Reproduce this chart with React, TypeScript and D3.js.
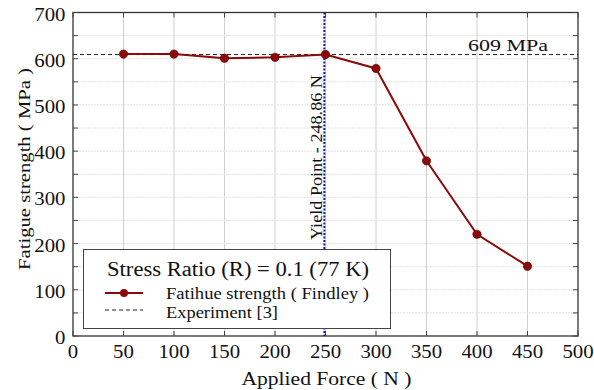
import React from "react";
import * as d3 from "d3";

const forces = [50, 100, 150, 200, 250, 300, 350, 400, 450];
const strength = [610, 610, 601, 603, 609, 579, 379, 220, 151];
const experimentValue = 609;
const yieldPoint = 248.86;
const xTicks = [0, 50, 100, 150, 200, 250, 300, 350, 400, 450, 500];
const yTicks = [0, 100, 200, 300, 400, 500, 600, 700];
const yMinor = [50, 150, 250, 350, 450, 550, 650];

const W = 594, H = 390;
const M = { left: 73, right: 578, top: 12.5, bottom: 336 };
const FONT = "Liberation Serif, Times New Roman, serif";

function T(props: any) {
  const { len, children, ...rest } = props;
  return (
    <text fill="#111" textLength={len} lengthAdjust="spacingAndGlyphs" {...rest}>
      {children}
    </text>
  );
}

export default function App() {
  const x = d3.scaleLinear().domain([0, 500]).range([M.left, M.right]);
  const y = d3.scaleLinear().domain([0, 700]).range([M.bottom, M.top]);
  const line = d3.line<number>().x((_, i) => x(forces[i])).y((d) => y(d));
  const red = "#8b0a0a";
  const numLen = (t: number) => String(t).length * 10.4;
  return (
    <svg width={W} height={H} style={{ position: "absolute", left: 0, top: 0, fontFamily: FONT }}>
      <rect width={W} height={H} fill="#fff" />
      {/* grid */}
      {xTicks.slice(1, -1).map((t) => (
        <line key={"gx" + t} x1={x(t)} x2={x(t)} y1={M.top} y2={M.bottom} stroke="#d0d0d0" strokeWidth={1} />
      ))}
      {[...yTicks.slice(1, -1), ...yMinor].map((t) => (
        <line key={"gy" + t} x1={M.left} x2={M.right} y1={y(t)} y2={y(t)} stroke="#e2e2e2" strokeWidth={1} strokeDasharray="2,1" />
      ))}
      {/* frame */}
      <rect x={M.left} y={M.top} width={M.right - M.left} height={M.bottom - M.top} fill="none" stroke="#333" strokeWidth={1.3} />
      {/* ticks */}
      {xTicks.map((t) => (
        <g key={"tx" + t}>
          <line x1={x(t)} x2={x(t)} y1={M.bottom} y2={M.bottom - 5} stroke="#444" />
          <line x1={x(t)} x2={x(t)} y1={M.top} y2={M.top + 5} stroke="#444" />
          <T x={x(t)} y={358} textAnchor="middle" fontSize={18.5} len={numLen(t)}>{t}</T>
        </g>
      ))}
      {[...yTicks, ...yMinor].map((t) => (
        <g key={"ty" + t}>
          <line x1={M.left} x2={M.left + 5} y1={y(t)} y2={y(t)} stroke="#444" />
          <line x1={M.right} x2={M.right - 5} y1={y(t)} y2={y(t)} stroke="#444" />
        </g>
      ))}
      {yTicks.map((t) => (
        <T key={"ly" + t} x={65.5 - numLen(t)} y={y(t) + 8} fontSize={18.5} len={numLen(t)}>{t}</T>
      ))}
      {/* experiment line */}
      <line x1={M.left} x2={M.right} y1={y(experimentValue)} y2={y(experimentValue)} stroke="#222" strokeWidth={1} strokeDasharray="4,3" />
      <T x={468} y={51} fontSize={17} len={80}>609 MPa</T>
      {/* yield line */}
      <line x1={x(yieldPoint)} x2={x(yieldPoint)} y1={M.top} y2={M.bottom} stroke="#1a1aa0" strokeWidth={2} strokeDasharray="2,1.5" />
      <T transform={`translate(${x(yieldPoint) - 2.5},240) rotate(-90)`} x={0} y={0} fontSize={16.5} len={165}>Yield Point - 248.86 N</T>
      {/* series */}
      <path d={line(strength) || ""} fill="none" stroke={red} strokeWidth={2} />
      {strength.map((v, i) => (
        <circle key={"c" + i} cx={x(forces[i])} cy={y(v)} r={4.2} fill={red} stroke="#5a0000" strokeWidth={0.6} />
      ))}
      {/* legend */}
      <rect x={83.5} y={249.5} width={307} height={79} fill="#fff" stroke="#444" strokeWidth={1} />
      <T x={107} y={276} fontSize={20} len={262}>Stress Ratio (R) = 0.1 (77 K)</T>
      <line x1={105} x2={143} y1={293} y2={293} stroke={red} strokeWidth={2} />
      <circle cx={124} cy={293} r={4} fill={red} />
      <T x={166} y={299} fontSize={16.5} len={203}>Fatihue strength ( Findley )</T>
      <line x1={105} x2={143} y1={310} y2={310} stroke="#222" strokeWidth={1} strokeDasharray="4,3" />
      <T x={166} y={317.5} fontSize={16.5} len={112}>Experiment [3]</T>
      {/* axis titles */}
      <T x={241.5} y={385} fontSize={18.5} len={170}>Applied Force ( N )</T>
      <T transform={`translate(30,270) rotate(-90)`} x={0} y={0} fontSize={17.5} len={202}>Fatigue strength ( MPa )</T>
    </svg>
  );
}
